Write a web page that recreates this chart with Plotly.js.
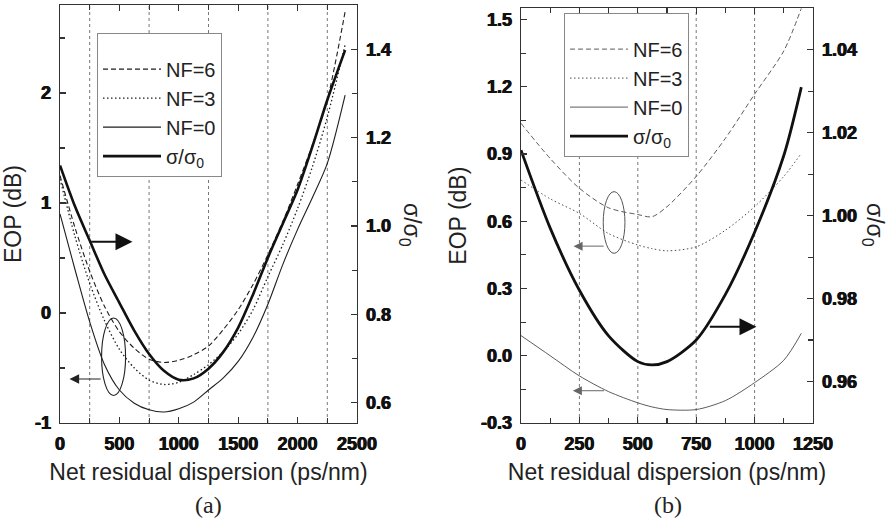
<!DOCTYPE html>
<html>
<head>
<meta charset="utf-8">
<script src="https://cdn.plot.ly/plotly-3.0.1.min.js"></script>
<style>html,body{margin:0;padding:0;background:#fff;}#chart{width:888px;height:531px;}</style>
</head>
<body>
<div id="chart"></div>
<script>
// ---------- Panel (a) data ----------
const dispA = [0,125,250,375,500,625,750,875,1000,1125,1250,1375,1500,1625,1750,1875,2000,2125,2250,2400];
const eopNF6A = [1.25,0.78,0.38,0.06,-0.17,-0.32,-0.42,-0.45,-0.43,-0.38,-0.30,-0.15,0.03,0.26,0.53,0.83,1.17,1.53,1.94,2.74];
const eopNF3A = [1.22,0.70,0.27,-0.07,-0.33,-0.50,-0.61,-0.65,-0.63,-0.56,-0.47,-0.35,-0.19,0.03,0.33,0.62,0.95,1.33,1.78,2.44];
const eopNF0A = [0.90,0.40,-0.08,-0.47,-0.70,-0.82,-0.88,-0.90,-0.87,-0.81,-0.70,-0.59,-0.44,-0.22,0.08,0.44,0.76,1.05,1.36,1.98];
const sigmaA  = [1.137,1.045,0.967,0.890,0.826,0.763,0.710,0.672,0.652,0.655,0.677,0.715,0.770,0.845,0.928,1.005,1.082,1.180,1.285,1.398];

// ---------- Panel (b) data ----------
const dispB = [0,125,250,375,500,560,625,750,875,1000,1125,1200];
const eopNF6B = [1.037,0.88,0.747,0.66,0.63,0.62,0.665,0.80,0.97,1.167,1.36,1.55];
const eopNF3B = [0.784,0.70,0.635,0.545,0.494,0.478,0.468,0.486,0.56,0.665,0.80,0.903];
const eopNF0B = [0.09,0.0,-0.09,-0.16,-0.21,-0.228,-0.24,-0.24,-0.20,-0.12,-0.02,0.10];
const sigmaB  = [1.0158,0.997,0.982,0.971,0.9648,0.964,0.9648,0.970,0.981,0.996,1.0145,1.031];

// ---------- Tick labels ----------
const xTickValsA = [0,500,1000,1500,2000,2500];
const xTickTextA = ['0','500','1000','1500','2000','2500'];
const yTickValsA = [-1,0,1,2];
const yTickTextA = ['-1','0','1','2'];
const y2TickValsA = [0.6,0.8,1.0,1.2,1.4];
const y2TickTextA = ['0.6','0.8','1.0','1.2','1.4'];
const xTickValsB = [0,250,500,750,1000,1250];
const xTickTextB = ['0','250','500','750','1000','1250'];
const yTickValsB = [-0.3,0,0.3,0.6,0.9,1.2,1.5];
const yTickTextB = ['-0.3','0.0','0.3','0.6','0.9','1.2','1.5'];
const y2TickValsB = [0.96,0.98,1.00,1.02,1.04];
const y2TickTextB = ['0.96','0.98','1.00','1.02','1.04'];

// reference lines (dotted verticals)
const refLinesA = [250,750,1250,1750,2250];
const refLinesB = [250,500,750,1000];

const seriesNames = ['NF=6','NF=3','NF=0','σ/σ<sub>0</sub>'];

const FONT = 'Liberation Sans';
const darkA = '#1e1e1e';
const darkB = '#4a4a4a';

function trace(x, y, name, xa, ya, dash, width, color, legend) {
  return {
    type: 'scatter', mode: 'lines', x: x, y: y, name: name,
    xaxis: xa, yaxis: ya, legend: legend, showlegend: true,
    line: {color: color, width: width, dash: dash, shape: 'spline', smoothing: 0.8},
    hoverinfo: 'skip'
  };
}

const data = [
  trace(dispA, eopNF6A, seriesNames[0], 'x', 'y', '5px,3px', 1.1, darkA, 'legend'),
  trace(dispA, eopNF3A, seriesNames[1], 'x', 'y', '1.5px,2.5px', 1.3, darkA, 'legend'),
  trace(dispA, eopNF0A, seriesNames[2], 'x', 'y', 'solid', 1.1, darkA, 'legend'),
  trace(dispA, sigmaA,  seriesNames[3], 'x', 'y2', 'solid', 2.6, '#111', 'legend'),
  trace(dispB, eopNF6B, seriesNames[0], 'x2', 'y3', '5px,3px', 0.9, darkB, 'legend2'),
  trace(dispB, eopNF3B, seriesNames[1], 'x2', 'y3', '1.5px,2.5px', 1.0, darkB, 'legend2'),
  trace(dispB, eopNF0B, seriesNames[2], 'x2', 'y3', 'solid', 0.9, darkB, 'legend2'),
  trace(dispB, sigmaB,  seriesNames[3], 'x2', 'y4', 'solid', 2.8, '#111', 'legend2')
];

const tickFont = {family: 'Liberation Sans', size: 18, color: '#111', weight: 'bold',
  shadow: '0.45px 0 0 #111, -0.45px 0 0 #111'};
const titleFont = {family: FONT, size: 23, color: '#222'};
const W = 888, H = 531;
const domXA = [60/W, 357/W], domXB = [521/W, 813/W];
const domYA = [1-423/H, 1-5/H], domYB = [1-423/H, 1-8.3/H];

function xAxis(dom, range, anchor, tv, tt, minorD) {
  return {
    domain: dom, range: range, anchor: anchor,
    tickmode: 'array', tickvals: tv, ticktext: tt,
    ticks: 'inside', ticklen: 6, tickwidth: 1.2, tickcolor: '#333',
    minor: {dtick: minorD, tick0: 0, ticks: 'inside', ticklen: 5, tickwidth: 1.2, tickcolor: '#333', showgrid: false},
    showline: true, linecolor: '#333', linewidth: 1.4, mirror: 'ticks',
    showgrid: false, zeroline: false, tickfont: tickFont, ticklabelstandoff: 4,
    title: {text: 'Net residual dispersion (ps/nm)', font: titleFont, standoff: 11}
  };
}
function yAxis(dom, range, anchor, tv, tt, minorD, side, overlay, title) {
  const a = {
    range: range, anchor: anchor,
    tickmode: 'array', tickvals: tv, ticktext: tt,
    ticks: 'inside', ticklen: 6, tickwidth: 1.2, tickcolor: '#333',
    minor: {dtick: minorD, tick0: 0, ticks: 'inside', ticklen: 5, tickwidth: 1.2, tickcolor: '#333', showgrid: false},
    showline: true, linecolor: '#333', linewidth: 1.4,
    showgrid: false, zeroline: false, tickfont: tickFont, side: side, ticklabelstandoff: 4
  };
  if (overlay) { a.overlaying = overlay; } else { a.domain = dom; }
  if (title) { a.title = {text: title, font: titleFont, standoff: 8}; }
  return a;
}

const shapes = [];
refLinesA.forEach(v => shapes.push({type: 'line', xref: 'x', yref: 'y domain', x0: v, x1: v, y0: 0, y1: 1,
  line: {color: '#777', width: 1, dash: 'dot'}, layer: 'below'}));
refLinesB.forEach(v => shapes.push({type: 'line', xref: 'x2', yref: 'y3 domain', x0: v, x1: v, y0: 0, y1: 1,
  line: {color: '#777', width: 1, dash: 'dot'}, layer: 'below'}));
// grouping ellipses
shapes.push({type: 'circle', xref: 'x', yref: 'y', x0: 350, x1: 552, y0: -0.75, y1: -0.045, line: {color: '#222', width: 1.1}});
shapes.push({type: 'circle', xref: 'x2', yref: 'y3', x0: 352, x1: 445, y0: 0.457, y1: 0.732, line: {color: '#555', width: 1}});

function arrow(xr, yr, x, y, ax, ay, w, color, size) {
  return {xref: xr, yref: yr, axref: xr, ayref: yr, x: x, y: y, ax: ax, ay: ay, text: '',
    showarrow: true, arrowhead: 2, arrowsize: size, arrowwidth: w, arrowcolor: color, standoff: 0, startstandoff: 0};
}

const annotations = [
  arrow('x', 'y2', 610, 0.964, 250, 0.964, 2, '#111', 1.7),
  arrow('x', 'y', 80, -0.6, 355, -0.6, 1.2, '#222', 1.6),
  arrow('x2', 'y3', 225, 0.489, 360, 0.489, 1, '#666', 1.8),
  arrow('x2', 'y3', 222, -0.156, 362, -0.156, 1, '#666', 1.8),
  arrow('x2', 'y4', 1008, 0.9732, 802, 0.9732, 2, '#111', 1.7),
  {xref: 'paper', yref: 'paper', x: 411/W, y: 1-225/H, text: 'σ/σ<sub>0</sub>', textangle: 90, showarrow: false,
   font: titleFont, xanchor: 'center', yanchor: 'middle'},
  {xref: 'paper', yref: 'paper', x: 874/W, y: 1-225/H, text: 'σ/σ<sub>0</sub>', textangle: 90, showarrow: false,
   font: titleFont, xanchor: 'center', yanchor: 'middle'},
  {xref: 'paper', yref: 'paper', x: 208/W, y: 1-505/H, text: '(a)', showarrow: false,
   font: {family: 'Liberation Serif', size: 24, color: '#222'}, xanchor: 'center', yanchor: 'middle'},
  {xref: 'paper', yref: 'paper', x: 668/W, y: 1-505/H, text: '(b)', showarrow: false,
   font: {family: 'Liberation Serif', size: 24, color: '#222'}, xanchor: 'center', yanchor: 'middle'}
];

const legendBase = {
  bgcolor: '#fff', bordercolor: '#888', borderwidth: 1,
  font: {family: FONT, size: 20, color: '#222'},
  xanchor: 'left', yanchor: 'top', itemwidth: 58, tracegroupgap: 0,
  title: {text: ' ', font: {size: 12}}
};

const layout = {
  width: W, height: H, margin: {l: 0, r: 0, t: 0, b: 0},
  paper_bgcolor: '#fff', plot_bgcolor: '#fff',
  font: {family: FONT, color: '#222'},
  showlegend: true,
  xaxis: xAxis(domXA, [0, 2500], 'y', xTickValsA, xTickTextA, 250),
  yaxis: yAxis(domYA, [-1, 2.8], 'x', yTickValsA, yTickTextA, 0.5, 'left', null, 'EOP (dB)'),
  yaxis2: yAxis(null, [0.554, 1.50], 'x', y2TickValsA, y2TickTextA, 0.1, 'right', 'y', null),
  xaxis2: xAxis(domXB, [0, 1250], 'y3', xTickValsB, xTickTextB, 125),
  yaxis3: yAxis(domYB, [-0.3, 1.55], 'x2', yTickValsB, yTickTextB, 0.15, 'left', null, 'EOP (dB)'),
  yaxis4: yAxis(null, [0.95, 1.05], 'x2', y2TickValsB, y2TickTextB, 0.01, 'right', 'y3', null),
  legend: Object.assign({}, legendBase, {x: 97/W, y: 1-33/H}),
  legend2: Object.assign({}, legendBase, {x: 564/W, y: 1-13/H}),
  shapes: shapes,
  annotations: annotations
};

Plotly.newPlot('chart', data, layout, {staticPlot: true, displayModeBar: false});
</script>
</body>
</html>
